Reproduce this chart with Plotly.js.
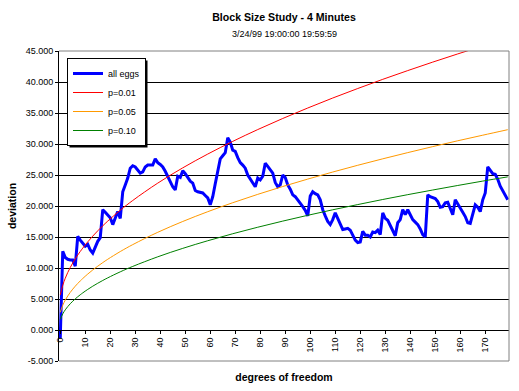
<!DOCTYPE html>
<html>
<head>
<meta charset="utf-8">
<script src="https://cdn.plot.ly/plotly-3.0.1.min.js"></script>
<style>html,body{margin:0;padding:0;background:#fff;}#chart{width:519px;height:391px;}</style>
</head>
<body>
<div id="chart"></div>
<script>
// "all eggs" deviation, one value per degree of freedom, categories 0..179
const allEggs = [
 -1.3,12.7,11.7,11.4,11.3,11.3,10.3,15.1,14.5,13.9,
 13.5,13.8,12.9,12.4,13.3,14.3,14.9,19.4,19.0,18.6,
 18.1,17.0,18.0,19.1,18.0,22.3,23.4,24.5,26.1,26.5,
 26.3,25.7,25.3,25.5,26.3,26.6,26.6,26.6,27.6,27.0,
 26.7,26.3,25.6,24.8,23.9,23.1,22.6,24.8,24.6,25.7,
 25.2,24.6,24.0,23.7,22.5,22.3,22.2,22.1,21.7,21.3,
 20.2,21.5,23.6,25.8,27.6,28.1,28.6,31.0,30.3,29.0,
 28.8,27.8,27.0,26.6,26.1,25.0,24.4,23.7,23.1,24.5,
 24.2,24.8,26.9,26.4,25.9,25.3,23.8,23.1,23.4,25.0,
 24.6,23.4,22.7,21.8,21.5,21.0,20.5,19.9,19.3,18.4,
 21.6,22.3,22.0,21.8,21.0,19.4,18.4,17.5,17.0,17.8,
 18.9,18.0,17.0,16.2,16.3,16.4,16.1,15.3,14.5,14.1,
 14.2,15.9,15.3,15.3,15.0,15.8,15.7,16.1,15.4,18.9,
 18.0,17.7,16.8,16.0,15.2,17.3,17.8,19.4,18.6,19.4,
 18.6,17.8,17.4,17.0,16.3,15.4,15.0,21.8,21.5,21.4,
 21.2,20.7,19.8,19.9,20.5,20.6,19.7,18.6,21.0,20.4,
 19.8,19.0,18.3,17.3,17.2,18.9,20.2,19.8,19.1,21.0,
 22.1,26.3,25.8,25.2,25.1,24.3,23.2,22.5,21.8,21.0
];

// significance curves, sampled at these categories
const curveX = [0,1,2,3,4,5,6,7,8,9,11,13,15,17,19,24,29,39,49,59,69,79,89,99,109,119,129,139,149,159,169,179];
const p01 = [5.635,7.210,8.345,9.277,10.086,10.812,11.475,12.090,12.666,13.209,14.217,15.141,16.000,16.805,17.566,19.314,20.892,23.691,26.154,28.379,30.425,32.329,34.116,35.807,37.42,38.95,40.43,41.84,43.21,44.53,45.81,47.06];
const p05 = [2.841,3.991,4.815,5.488,6.070,6.592,7.067,7.507,7.919,8.307,9.026,9.685,10.296,10.869,11.410,12.652,13.773,15.758,17.505,19.082,20.531,21.879,23.145,24.342,25.48,26.57,27.61,28.61,29.58,30.52,31.42,32.31];
const p10 = [1.706,2.605,3.251,3.779,4.236,4.645,5.017,5.362,5.684,5.987,6.549,7.064,7.542,7.989,8.412,9.382,10.256,11.805,13.167,14.397,15.527,16.578,17.565,18.498,19.39,20.23,21.05,21.83,22.58,23.31,24.02,24.70];

const seriesNames = ["all eggs","p=0.01","p=0.05","p=0.10"];
const yTickVals = [-5,0,5,10,15,20,25,30,35,40,45];
const yTickText = ["-5.000","0.000","5.000","10.000","15.000","20.000","25.000","30.000","35.000","40.000","45.000"];

const FONT = "Liberation Sans, Arial, sans-serif";
const M = {l:59, r:10, t:51, b:30};
const W = 519, H = 391;
const PW = W - M.l - M.r, PH = H - M.t - M.b;

const traces = [
  {type:'scatter', mode:'lines', name:seriesNames[0], y:allEggs, x0:0, dx:1,
   line:{color:'#0000FF', width:3}},
  {type:'scatter', mode:'lines', name:seriesNames[1], x:curveX, y:p01,
   line:{color:'#FF0000', width:1, shape:'spline'}},
  {type:'scatter', mode:'lines', name:seriesNames[2], x:curveX, y:p05,
   line:{color:'#FF9900', width:1, shape:'spline'}},
  {type:'scatter', mode:'lines', name:seriesNames[3], x:curveX, y:p10,
   line:{color:'#008000', width:1, shape:'spline'}}
];

const layout = {
  width:W, height:H,
  margin:M,
  paper_bgcolor:'#fff', plot_bgcolor:'#fff',
  font:{family:FONT, size:9, color:'#000'},
  showlegend:true,
  title:{text:'<b>Block Size Study - 4 Minutes</b>', font:{family:FONT, size:10.6, color:'#000'},
         x:0.5, xref:'paper', y:1-17/H, yref:'container', yanchor:'middle'},
  annotations:[{text:'3/24/99 19:00:00 19:59:59', xref:'paper', yref:'paper', x:0.5, y:1+17/PH,
                xanchor:'center', yanchor:'middle', showarrow:false, font:{family:FONT, size:9, color:'#000'}}],
  xaxis:{range:[-0.5,179.5], anchor:'free', position:0.1, tick0:0, dtick:10, tickangle:-90,
         showline:true, linecolor:'#000', linewidth:1, ticks:'outside', ticklen:3, tickcolor:'#000',
         showgrid:false, zeroline:false, tickfont:{family:FONT, size:9},
         title:{text:'<b>degrees of freedom</b>', font:{family:FONT, size:10.5}, standoff:22}},
  yaxis:{range:[-5,45], tickvals:yTickVals, ticktext:yTickText, showline:true, linecolor:'#000', linewidth:1,
         ticks:'outside', ticklen:3, tickcolor:'#000', showgrid:true, gridcolor:'#000', gridwidth:1,
         zeroline:false, tickfont:{family:FONT, size:9},
         title:{text:'<b>deviation</b>', font:{family:FONT, size:10.5}, standoff:6}},
  legend:{x:(67-M.l)/PW, y:1-(58-M.t)/PH, xanchor:'left', yanchor:'top', bgcolor:'#fff',
          bordercolor:'#000', borderwidth:1, font:{family:FONT, size:9}, itemwidth:30, tracegroupgap:0},
  shapes:[{type:'path', xref:'paper', yref:'paper', path:'M0,0 L1,0 L1,1 L0,1', line:{color:'#808080', width:1}, layer:'above'}]
};

Plotly.newPlot('chart', traces, layout, {staticPlot:true, displayModeBar:false}).then(function(gd){
  // drop shadow behind the legend box (styling only)
  const bg = gd.querySelector('.legend .bg');
  if (!bg) return;
  const r = bg.getBoundingClientRect();
  const c = gd.getBoundingClientRect();
  const x0 = r.left - c.left + 2, x1 = r.right - c.left + 2;
  const y0 = r.top - c.top + 2, y1 = r.bottom - c.top + 2;
  const shapes = layout.shapes.concat([{type:'rect', xref:'paper', yref:'paper', layer:'above',
    x0:(x0-M.l)/PW, x1:(x1-M.l)/PW, y0:1-(y1-M.t)/PH, y1:1-(y0-M.t)/PH,
    fillcolor:'#000', line:{width:0}}]);
  return Plotly.relayout(gd, {shapes:shapes});
});
</script>
</body>
</html>
